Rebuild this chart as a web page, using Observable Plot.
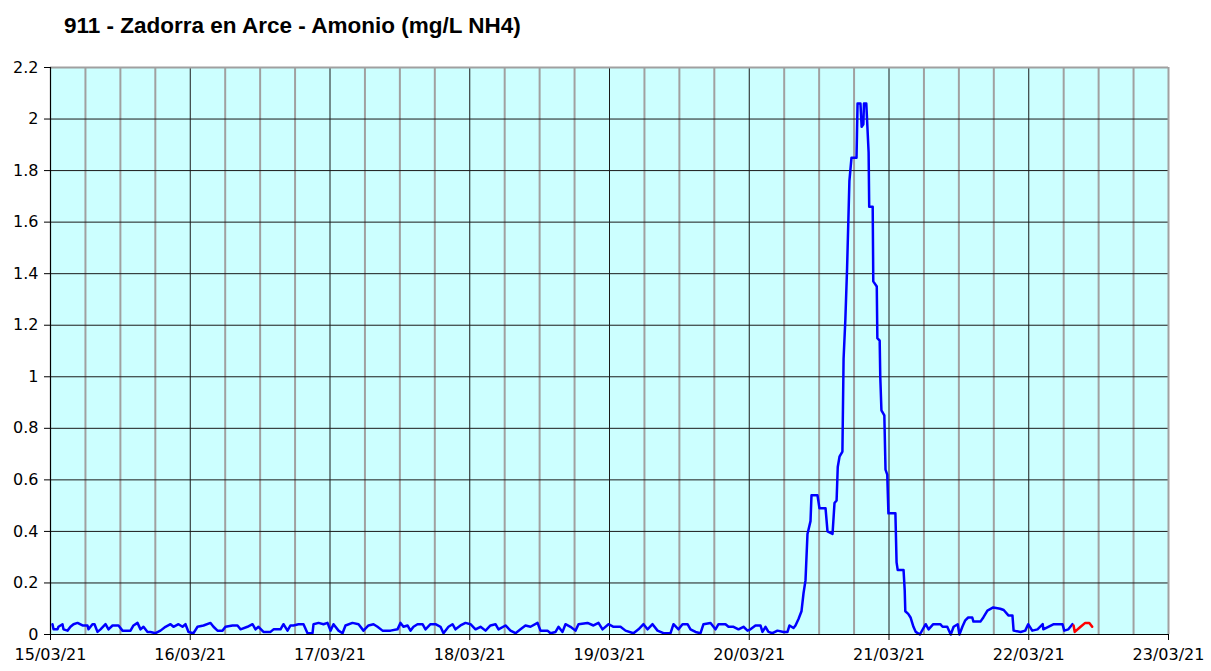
<!DOCTYPE html>
<html>
<head>
<meta charset="utf-8">
<script src="https://cdn.jsdelivr.net/npm/d3@7"></script>
<script src="https://cdn.jsdelivr.net/npm/@observablehq/plot@0.6"></script>
<style>
  html, body { margin: 0; padding: 0; background: #fff; }
  #wrap { position: relative; width: 1211px; height: 671px; }
  #title { position: absolute; left: 64px; top: 13px; font: bold 22.5px "Liberation Sans", Arial, sans-serif; color: #000; white-space: nowrap; }
  #chart { position: absolute; left: 0; top: 0; }
</style>
</head>
<body>
<div id="wrap">
  <div id="chart"></div>
  <div id="title">911 - Zadorra en Arce - Amonio (mg/L NH4)</div>
</div>
<script>
// Start of the period shown
const startDate = "2021-03-15T00:00:00Z";
const endDate = "2021-03-23T00:00:00Z";

// Day tick labels (bottom axis)
const dayTicks = ["2021-03-15","2021-03-16","2021-03-17","2021-03-18","2021-03-19","2021-03-20","2021-03-21","2021-03-22","2021-03-23"];
// Y tick values
const yTicks = [0, 0.2, 0.4, 0.6, 0.8, 1, 1.2, 1.4, 1.6, 1.8, 2, 2.2];

// Blue series: hours since start, value (mg/L NH4)
const blueHours = [
  0.34,0.52,1.2,1.37,2.06,2.23,2.92,3.43,3.95,4.64,5.5,6.35,6.53,7.21,7.56,8.07,8.59,9.45,9.96,10.65,
  11.68,12.36,13.74,14.25,14.94,15.46,15.97,16.66,17.17,18.03,18.89,19.75,20.61,21.12,21.98,22.67,23.18,23.7,
  24.56,25.25,26.28,27.48,27.99,28.68,29.54,30.05,31.26,32.11,32.63,33.83,34.69,35.21,35.72,36.58,37.78,38.3,
  39.5,40.01,40.7,41.22,41.73,42.59,43.45,44.14,45.0,45.17,46.03,46.88,47.57,48.09,48.6,49.46,50.15,50.66,
  51.86,52.9,53.75,54.61,55.47,56.16,57.02,58.39,59.59,60.11,60.62,61.31,61.82,62.34,63.03,63.89,64.4,65.26,
  66.12,66.98,67.49,68.35,69.04,69.55,70.41,71.27,72.13,72.99,73.85,74.71,75.56,76.42,76.94,78.14,79.0,79.86,
  80.72,81.57,82.43,83.64,84.15,85.35,85.87,86.73,87.24,87.93,88.44,89.3,90.16,90.68,92.22,93.25,94.11,94.8,
  95.83,96.69,97.89,98.75,100.12,100.98,101.84,102.53,103.39,104.25,105.27,106.48,106.99,107.85,108.54,109.4,
  109.91,110.77,111.63,112.14,113.35,114.2,114.72,115.92,116.44,117.3,118.15,119.01,119.7,120.21,121.07,121.93,
  122.27,122.79,123.3,123.99,124.85,125.88,126.57,126.91,127.6,127.94,128.46,128.97,129.32,129.66,130.0,130.52,
  130.69,131.72,132.06,133.1,133.44,134.3,134.64,135.0,135.2,135.5,136.0,136.2,136.5,136.8,137.2,137.56,138.42,
  138.5,138.6,139.1,139.3,139.6,139.7,140.1,140.5,140.6,141.2,141.3,141.9,142.0,142.4,142.5,142.7,143.2,143.4,
  143.7,143.9,145.1,145.3,145.5,146.5,146.7,146.8,147.3,147.7,148.2,148.6,149.3,150.3,150.8,151.6,152.8,153.2,
  154.0,154.6,155.1,155.8,156.1,156.6,157.1,157.6,158.3,158.5,159.7,160.2,160.9,161.9,163.1,163.7,164.5,165.2,
  165.4,166.6,167.4,167.9,168.6,169.5,170.4,170.5,172.3,173.8,174.1,174.8,175.5
];
const blueValues = [
  0.04,0.02,0.02,0.03,0.04,0.02,0.015,0.03,0.04,0.045,0.035,0.035,0.02,0.04,0.04,0.01,0.02,0.04,0.02,0.035,
  0.035,0.015,0.015,0.035,0.045,0.02,0.03,0.01,0.01,0.005,0.015,0.03,0.04,0.03,0.04,0.03,0.04,0.01,
  0.005,0.03,0.035,0.045,0.03,0.015,0.015,0.03,0.035,0.035,0.02,0.03,0.04,0.02,0.03,0.01,0.01,0.02,
  0.02,0.04,0.015,0.035,0.035,0.04,0.04,0.005,0.005,0.04,0.045,0.04,0.045,0.015,0.04,0.015,0.005,0.035,
  0.045,0.04,0.015,0.035,0.04,0.03,0.015,0.015,0.02,0.045,0.03,0.035,0.015,0.03,0.04,0.04,0.02,0.04,
  0.04,0.03,0.005,0.03,0.04,0.02,0.035,0.045,0.04,0.02,0.03,0.015,0.035,0.04,0.02,0.035,0.015,0.005,
  0.02,0.035,0.03,0.045,0.015,0.015,0.005,0.01,0.03,0.01,0.04,0.03,0.015,0.04,0.045,0.035,0.045,0.02,
  0.04,0.03,0.03,0.015,0.005,0.02,0.04,0.02,0.04,0.015,0.005,0.005,0.04,0.02,0.04,0.04,
  0.02,0.01,0.005,0.04,0.045,0.02,0.04,0.04,0.03,0.03,0.02,0.03,0.015,0.02,0.035,0.035,
  0.01,0.03,0.01,0.005,0.015,0.01,0.01,0.035,0.025,0.035,0.06,0.09,0.16,0.21,0.39,0.44,
  0.54,0.54,0.49,0.49,0.40,0.39,0.51,0.52,0.65,0.69,0.71,1.07,1.22,1.42,1.76,1.85,1.85,
  1.94,2.06,2.06,1.97,1.98,2.06,2.06,1.87,1.66,1.66,1.37,1.35,1.15,1.14,1.0,0.87,0.85,0.64,
  0.62,0.47,0.47,0.28,0.25,0.25,0.17,0.09,0.08,0.066,0.03,0.01,0,0.04,0.02,0.04,0.04,0.03,
  0.03,0,0.03,0.04,0,0.03,0.055,0.066,0.066,0.05,0.05,0.066,0.093,0.105,0.10,0.095,0.074,0.074,
  0.015,0.01,0.015,0.04,0.015,0.02,0.04,0.02,0.04,0.04,0.015,0.02,0.04
];

// Red series (latest readings)
const redHours = [175.7, 175.9, 176.9, 177.7, 178.4, 178.9];
const redValues = [0.035, 0.01, 0.03, 0.045, 0.045, 0.03];

const t0 = new Date(startDate).getTime();
const toDate = h => new Date(t0 + h * 3600e3);
const blue = blueHours.map((h, i) => ({t: toDate(h), v: blueValues[i]}));
const red = redHours.map((h, i) => ({t: toDate(h), v: redValues[i]}));
const days = dayTicks.map(d => new Date(d + "T00:00:00Z"));
const quarterLines = d3.utcHour.every(6).range(new Date(startDate), new Date(endDate)).filter(d => d.getUTCHours() !== 0);
const fmtDay = d3.utcFormat("%d/%m/%y");

const chart = Plot.plot({
  width: 1211,
  height: 671,
  marginLeft: 50,
  marginRight: 43,
  marginTop: 67,
  marginBottom: 37,
  style: {fontFamily: "'DejaVu Sans', Verdana, sans-serif", fontSize: "16px", color: "#000", background: "transparent", overflow: "visible"},
  x: {type: "utc", domain: [new Date(startDate), new Date(endDate)]},
  y: {domain: [0, 2.2]},
  marks: [
    Plot.frame({fill: "#CCFFFF", stroke: "none"}),
    Plot.ruleX(quarterLines, {stroke: "#A0A0A0", strokeWidth: 2}),
    Plot.ruleY(yTicks.filter(v => v > 0 && v < 2.2), {stroke: "#1a1a1a", strokeWidth: 1}),
    Plot.ruleX(days.slice(1, -1), {stroke: "#1a1a1a", strokeWidth: 1}),
    Plot.ruleY([2.2], {stroke: "#A0A0A0", strokeWidth: 2}),
    Plot.ruleX([days[days.length - 1]], {stroke: "#A0A0A0", strokeWidth: 2}),
    Plot.line(blue, {x: "t", y: "v", stroke: "#0000FF", strokeWidth: 2.5}),
    Plot.line(red, {x: "t", y: "v", stroke: "#FF0000", strokeWidth: 2.5}),
    Plot.ruleX([days[0]], {stroke: "#000", strokeWidth: 1.2}),
    Plot.ruleY([0], {stroke: "#000", strokeWidth: 1.2}),
    Plot.axisY({ticks: yTicks, tickSize: 6, tickPadding: 6, stroke: "#000", strokeOpacity: 1, tickFormat: d => String(+d.toFixed(1)), fill: "#000", label: null}),
    Plot.axisX({ticks: days, tickSize: 6, tickPadding: 8, stroke: "#000", strokeOpacity: 1, tickFormat: fmtDay, fill: "#000", label: null})
  ]
});
document.getElementById("chart").appendChild(chart);
</script>
</body>
</html>
